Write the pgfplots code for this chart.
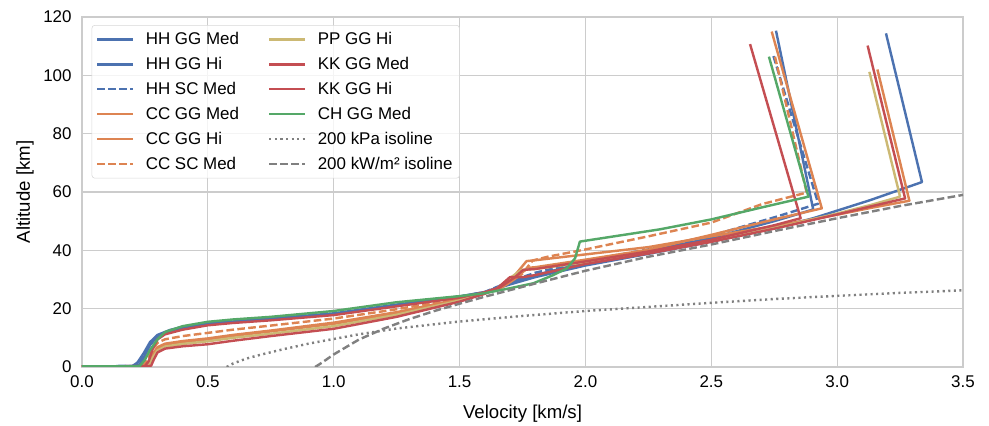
\documentclass[border=0pt]{standalone}
\usepackage{fontspec}
\setmainfont{Liberation Sans}
\usepackage{pgfplots}
\pgfplotsset{compat=1.18}
\definecolor{sbblue}{HTML}{4C72B0}
\definecolor{sborange}{HTML}{DD8452}
\definecolor{sbgreen}{HTML}{55A868}
\definecolor{sbred}{HTML}{C44E52}
\definecolor{sbyellow}{HTML}{CCB974}
\definecolor{isogray}{HTML}{808080}
\definecolor{gridgray}{HTML}{CCCCCC}
\definecolor{leggray}{HTML}{D8D8D8}
\begin{document}
\begin{tikzpicture}
\useasboundingbox (-59.04pt,-42.48pt) rectangle (653.04pt,264.24pt);
\begin{axis}[
  at={(0,0)}, anchor=south west,
  scale only axis, width=634.32pt, height=252pt,
  xmin=0, xmax=3.5, ymin=0, ymax=120,
  xtick={0,0.5,1,1.5,2,2.5,3,3.5},
  ytick={0,20,40,60,80,100,120},
  /pgf/number format/assume math mode=true,
  tick label style={font=\fontsize{12.2}{14.6}\selectfont, black},
  xticklabel style={yshift=-3pt, /pgf/number format/.cd, fixed, fixed zerofill, precision=1},
  yticklabel style={xshift=-4pt},
  label style={font=\fontsize{13.4}{16}\selectfont},
  xlabel={Velocity [km/s]}, ylabel={Altitude [km]},
  xlabel style={at={(axis description cs:0.5,-0.132)}, anchor=center},
  ylabel style={at={(axis description cs:-0.0647,0.5)}, anchor=center},
  major tick length=0pt,
  axis line style={draw=gridgray, line width=1pt},
  grid=major, grid style={draw=gridgray, line width=0.8pt},
  legend columns=6, transpose legend,
  legend cell align=left,
  legend style={at={(0.011,0.977)}, anchor=north west,
    draw=leggray, rounded corners=2pt, fill=white, fill opacity=0.8, text opacity=1,
    font=\fontsize{12.2}{14.6}\selectfont, row sep=3.6pt, inner sep=3pt,
    /tikz/every odd column/.append style={column sep=6pt},
    /tikz/every even column/.append style={column sep=19pt}},
  legend image code/.code={\draw[#1] plot coordinates {(0pt,0pt) (13pt,0pt) (26pt,0pt)};},
  every axis plot post/.append style={line width=1.75pt, line join=round},
]
% HH GG Med
\addplot[sbblue] coordinates {(2.757,115.3)(2.905,54)(2.75,50)(2.5,44.2)(2.25,39.8)(2.0,35.8)(1.8,31.5)(1.7,28.8)(1.6,25.7)(1.5,24.2)(1.25,21.4)(1.0,18.4)(0.75,16.6)(0.6,15.6)(0.5,15)(0.4,13.8)(0.35,12.7)(0.3,11)(0.27,8.5)(0.245,4.7)(0.22,1.5)(0.2,0.3)(0,0.2)};
\addlegendentry{HH GG Med}
% HH GG Hi
\addplot[sbblue] coordinates {(3.194,114.4)(3.337,63.4)(3.131,57.2)(2.905,51)(2.75,47.6)(2.5,43)(2.25,38.8)(2.0,34.8)(1.8,30.8)(1.7,28.3)(1.6,25.6)(1.5,24)(1.25,21)(1.0,18.1)(0.75,16.3)(0.6,15.3)(0.5,14.7)(0.4,13.5)(0.35,12.4)(0.3,10.5)(0.27,7.5)(0.25,4)(0.23,1)(0.21,0.3)(0,0.2)};
\addlegendentry{HH GG Hi}
% HH SC Med
\addplot[sbblue, dash pattern=on 5.5pt off 2.4pt] coordinates {(2.747,106.6)(2.925,56)(2.75,51.3)(2.5,45)(2.25,40.3)(2.0,36.4)(1.8,32.3)(1.7,29.3)(1.6,25.7)(1.5,24.1)(1.25,21.2)(1.0,18.2)(0.75,16.4)(0.6,15.4)(0.5,14.8)(0.4,13.6)(0.35,12.5)(0.3,10.7)(0.27,8)(0.25,4.2)(0.225,1.2)(0.2,0.3)(0,0.2)};
\addlegendentry{HH SC Med}
% CC GG Med
\addplot[sborange] coordinates {(2.740,115)(2.939,54.4)(2.75,50.6)(2.5,45.3)(2.25,40.2)(2.0,36.8)(1.8,34.2)(1.77,34)(1.72,30.2)(1.66,26.8)(1.6,25.5)(1.5,23.3)(1.25,18.8)(1.0,15.2)(0.75,12.5)(0.6,11)(0.5,9.8)(0.4,8.9)(0.33,8)(0.3,6.8)(0.28,4.3)(0.26,1.2)(0.24,0.2)(0,0.2)};
\addlegendentry{CC GG Med}
% CC GG Hi
\addplot[sborange] coordinates {(3.160,102)(3.287,57)(3.131,54.5)(3.0,52.2)(2.75,48.3)(2.5,44.8)(2.25,41.1)(2.0,38.6)(1.8,36.6)(1.766,36.3)(1.72,31.5)(1.66,27)(1.6,25.4)(1.5,23.1)(1.25,18.5)(1.0,14.8)(0.75,12.2)(0.6,10.7)(0.5,9.5)(0.4,8.6)(0.33,7.7)(0.3,6.5)(0.28,4)(0.26,1)(0.24,0.2)(0,0.2)};
\addlegendentry{CC GG Hi}
% CC SC Med
\addplot[sborange, dash pattern=on 5.5pt off 2.4pt] coordinates {(2.753,106.4)(2.879,59.8)(2.7,55.8)(2.5,49.5)(2.25,44.8)(2.0,40.3)(1.85,37.8)(1.79,36.5)(1.75,32)(1.68,28)(1.6,25.5)(1.5,23.5)(1.25,19.8)(1.0,16.6)(0.75,14.2)(0.6,12.8)(0.5,11.7)(0.4,10.6)(0.33,9.5)(0.3,8.3)(0.28,6)(0.26,2.5)(0.24,0.5)(0.22,0.2)(0,0.2)};
\addlegendentry{CC SC Med}
% PP GG Hi
\addplot[sbyellow] coordinates {(3.128,101.2)(3.250,58.4)(3.131,55.5)(3.0,52.6)(2.75,47.6)(2.5,43.2)(2.25,39.2)(2.0,35.9)(1.8,33.6)(1.747,33.3)(1.7,30.5)(1.64,26.3)(1.6,25.2)(1.5,22.8)(1.25,17.9)(1.0,14.0)(0.75,11.4)(0.6,10)(0.5,8.8)(0.4,7.9)(0.33,7)(0.3,5.7)(0.28,3)(0.265,0.5)(0.25,0.2)(0,0.2)};
\addlegendentry{PP GG Hi}
% KK GG Med
\addplot[sbred] coordinates {(2.654,110.7)(2.855,51)(2.75,48.6)(2.5,43.6)(2.25,39.6)(2.0,36.2)(1.8,33.6)(1.753,33.3)(1.72,30.8)(1.66,27.3)(1.6,25.6)(1.5,23.8)(1.25,20.8)(1.0,17.8)(0.75,16.0)(0.6,15.1)(0.5,14.3)(0.4,12.8)(0.33,11.2)(0.3,9.5)(0.28,6)(0.265,2)(0.25,0.3)(0,0.2)};
\addlegendentry{KK GG Med}
% KK GG Hi
\addplot[sbred] coordinates {(3.121,110.2)(3.270,57.8)(3.131,55)(3.0,52.3)(2.75,47.4)(2.5,42.9)(2.25,38.9)(2.0,35.3)(1.8,31.5)(1.753,30.8)(1.70,30.8)(1.65,27)(1.6,25.1)(1.5,22.4)(1.25,17.2)(1.0,13.1)(0.75,10.6)(0.6,9.0)(0.5,7.8)(0.4,7.1)(0.33,6.3)(0.3,5)(0.285,2.5)(0.275,0.5)(0.26,0.2)(0,0.2)};
\addlegendentry{KK GG Hi}
% CH GG Med
\addplot[sbgreen] coordinates {(2.729,106.4)(2.886,58.4)(2.7,54.7)(2.5,50.6)(2.296,47.2)(1.978,43)(1.959,37.3)(1.926,33.8)(1.872,31.5)(1.793,28.7)(1.7,27)(1.6,25.3)(1.5,24.3)(1.25,22.2)(1.0,19.2)(0.75,17.2)(0.6,16.3)(0.5,15.5)(0.4,14)(0.33,12)(0.3,9.5)(0.27,5.8)(0.25,2.5)(0.23,0.4)(0.21,0.2)(0,0.2)};
\addlegendentry{CH GG Med}
% 200 kPa isoline
\addplot[isogray, dash pattern=on 1.5pt off 2.5pt] coordinates {(0.575,0)(0.6,1.2)(0.65,2.8)(0.7,4)(0.8,6.1)(0.9,8)(1.0,9.6)(1.1,11.2)(1.25,13.2)(1.5,15.6)(1.75,17.5)(2.0,19.2)(2.25,20.6)(2.5,22)(2.75,23.3)(3.0,24.4)(3.25,25.4)(3.5,26.3)};
\addlegendentry{200 kPa isoline}
% 200 kW/m2 isoline
\addplot[isogray, dash pattern=on 5.5pt off 2.4pt] coordinates {(0.926,0)(0.95,1.3)(1.0,4.3)(1.1,9.4)(1.2,13.2)(1.3,16.4)(1.4,19.2)(1.5,21.7)(1.6,24.1)(1.8,28.6)(2.0,33)(2.25,37.8)(2.5,42)(2.75,46.6)(3.0,51)(3.25,55.2)(3.5,59)};
\addlegendentry{200 kW/m² isoline}
\end{axis}
\end{tikzpicture}
\end{document}
